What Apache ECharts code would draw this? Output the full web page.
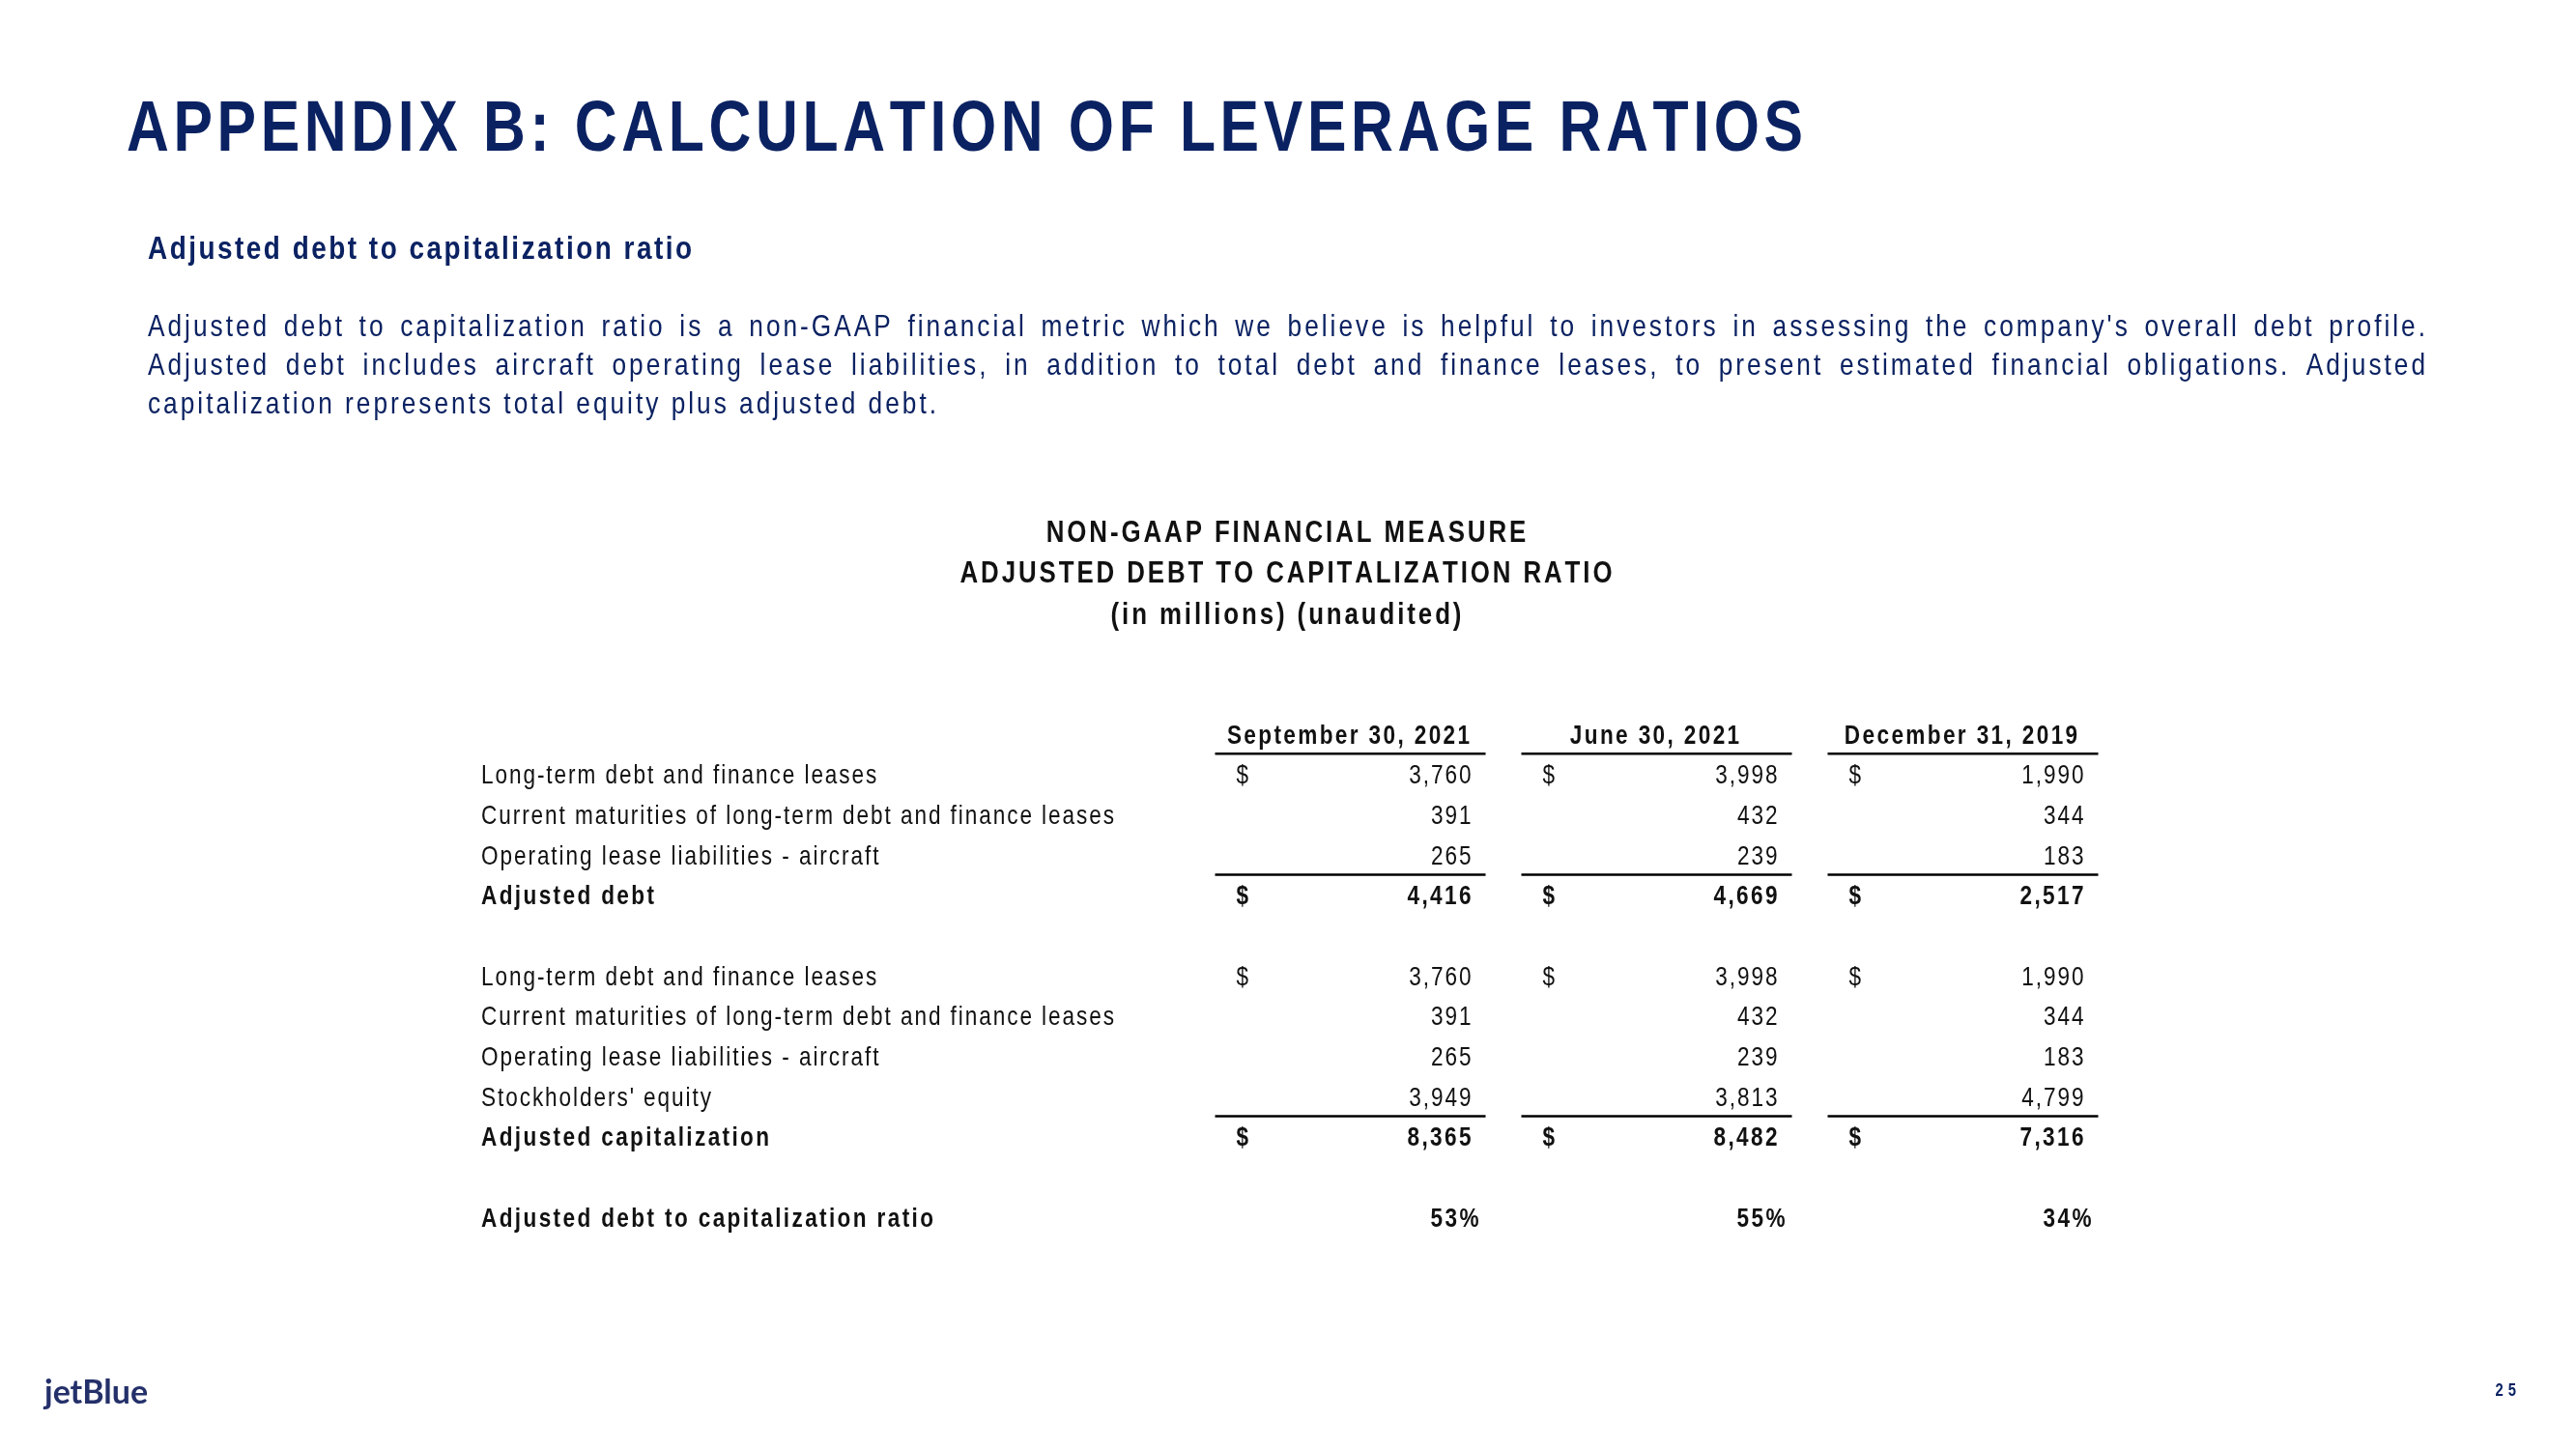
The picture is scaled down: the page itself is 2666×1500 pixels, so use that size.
<!DOCTYPE html>
<html><head><meta charset="utf-8">
<script src="https://cdn.jsdelivr.net/npm/echarts@6/dist/echarts.min.js"></script>
<style>html,body{margin:0;padding:0;background:#fff}#c{width:2666px;height:1500px}</style>
</head><body><div id="c"></div>
<script>
// ---------------- data ----------------
const periods = ['September 30, 2021', 'June 30, 2021', 'December 31, 2019'];
const longTermDebt = [3760, 3998, 1990];
const currentMaturities = [391, 432, 344];
const operatingLeaseAircraft = [265, 239, 183];
const adjustedDebt = [4416, 4669, 2517];
const stockholdersEquity = [3949, 3813, 4799];
const adjustedCapitalization = [8365, 8482, 7316];
const debtToCapRatio = [53, 55, 34];
const rowLabels = ['', 'Long-term debt and finance leases', 'Current maturities of long-term debt and finance leases',
  'Operating lease liabilities - aircraft', 'Adjusted debt', '', 'Long-term debt and finance leases',
  'Current maturities of long-term debt and finance leases', 'Operating lease liabilities - aircraft',
  "Stockholders' equity", 'Adjusted capitalization', '', 'Adjusted debt to capitalization ratio'];
const titleText = 'APPENDIX B: CALCULATION OF LEVERAGE RATIOS';
const subheadText = 'Adjusted debt to capitalization ratio';
const paragraphLines = [
  "Adjusted debt to capitalization ratio is a non-GAAP financial metric which we believe is helpful to investors in assessing the company's overall debt profile.",
  "Adjusted debt includes aircraft operating lease liabilities, in addition to total debt and finance leases, to present estimated financial obligations. Adjusted",
  "capitalization represents total equity plus adjusted debt."
];
const tableTitleLines = ['NON-GAAP FINANCIAL MEASURE', 'ADJUSTED DEBT TO CAPITALIZATION RATIO', '(in millions) (unaudited)'];
const logoText = 'jetBlue';
const pageNumber = '25';

// table structure (which array sits in which row)
const rows = [
  { header: true, underline: true },
  { values: longTermDebt, dollar: true },
  { values: currentMaturities },
  { values: operatingLeaseAircraft, underline: true },
  { values: adjustedDebt, dollar: true, bold: true },
  {},
  { values: longTermDebt, dollar: true },
  { values: currentMaturities },
  { values: operatingLeaseAircraft },
  { values: stockholdersEquity, underline: true },
  { values: adjustedCapitalization, dollar: true, bold: true },
  {},
  { values: debtToCapRatio, pct: true, bold: true }
];
const boldRows = [4, 10, 12];

// ---------------- text helpers ----------------
const NAVY = '#0b2262';
const INK = '#111111';
const ctx = document.createElement('canvas').getContext('2d');
function mw(font, s) { ctx.font = font; return ctx.measureText(s).width; }
const probe = 'Current maturities of long-term debt';
const hasNarrow = Math.abs(mw('40px "Liberation Sans Narrow", monospace', probe) - mw('40px monospace', probe)) > 1;
const FAM = hasNarrow ? '"Liberation Sans Narrow", "Liberation Sans", Arial, sans-serif' : '"Liberation Sans", Arial, sans-serif';
const SX = hasNarrow ? 1 : 0.82;

function charsWidth(t, font) { ctx.font = font; let s = 0; for (const ch of t) s += ctx.measureText(ch).width; return s; }
function makeStyle(size, weight, refText, refWidth, color) {
  const font = weight + ' ' + size + 'px ' + FAM;
  const nat = charsWidth(refText, font) * SX;
  const ls = (refWidth - nat) / (refText.length - 1);
  return { font, ls, sx: SX, color };
}
function layout(text, st) {
  ctx.font = st.font; let x = 0; const items = [];
  for (const ch of text) { const w = ctx.measureText(ch).width * st.sx; items.push({ ch, x }); x += w + st.ls; }
  return { items, width: text.length ? x - st.ls : 0 };
}
function textEls(text, st, x0, y, align) {
  const L = layout(text, st);
  const start = align === 'right' ? x0 - L.width : align === 'center' ? x0 - L.width / 2 : x0;
  return L.items.filter(i => i.ch !== ' ').map(i => ({
    type: 'text', x: start + i.x, y: y, scaleX: st.sx, silent: true,
    style: { text: i.ch, font: st.font, fill: st.color, align: 'left', verticalAlign: 'middle' }
  }));
}

// styles (reference widths measured from the slide)
const sTitle = makeStyle(74, 'bold', titleText, 1735, NAVY);
const sSub = makeStyle(34, 'bold', subheadText, 563, NAVY);
const sPara = makeStyle(32, 'normal', paragraphLines[2], 816, NAVY);
const sTT = makeStyle(31.5, 'bold', tableTitleLines[1], 675, INK);
const sReg = makeStyle(27.5, 'normal', rowLabels[2], 655, INK);
const sBold = makeStyle(27.5, 'bold', rowLabels[12], 468, INK);

// ---------------- static graphics ----------------
const g = [];
g.push(...textEls(titleText, sTitle, 131, 136, 'left'));
g.push(...textEls(subheadText, sSub, 153, 259, 'left'));
const PARA_L = 153, PARA_R = 2510, paraY = [339, 379, 419];
paragraphLines.forEach((line, li) => {
  const words = line.split(' ');
  const lays = words.map(w => layout(w, sPara));
  const sum = lays.reduce((a, b) => a + b.width, 0);
  const justify = li < paragraphLines.length - 1;
  const spaceW = mw(sPara.font, ' ') * sPara.sx + 2 * sPara.ls;
  const gap = justify ? (PARA_R - PARA_L - sum) / (words.length - 1) : spaceW;
  let x = PARA_L;
  words.forEach((w, wi) => { g.push(...textEls(w, sPara, x, paraY[li], 'left')); x += lays[wi].width + gap; });
});
const ttY = [552, 594, 637];
tableTitleLines.forEach((t, i) => g.push(...textEls(t, sTT, 1331, ttY[i], 'center')));
// logo + page number
const logoSize = 34 * 107 / mw('bold 34px Lato', logoText);
g.push({ type: 'text', x: 46, y: 1442, silent: true,
  style: { text: logoText, font: 'bold ' + logoSize.toFixed(1) + 'px Lato, sans-serif', fill: '#24306a', align: 'left', verticalAlign: 'middle' } });
const sPage = { font: 'bold 18px ' + FAM, ls: 5, sx: SX, color: NAVY };
g.push(...textEls(pageNumber, sPage, 2604, 1440, 'right'));

// ---------------- table cells (custom series on category axes) ----------------
const cells = [];
rows.forEach((r, ri) => {
  if (rowLabels[ri]) cells.push({ kind: 'label', col: 0, row: ri, text: rowLabels[ri], bold: boldRows.includes(ri) });
  if (r.header) periods.forEach((p, ci) => cells.push({ kind: 'header', col: ci, row: ri, text: p }));
  if (r.values) r.values.forEach((v, ci) => {
    if (r.dollar) cells.push({ kind: 'dollar', col: ci, row: ri, text: '$', bold: r.bold });
    if (r.pct) cells.push({ kind: 'pct', col: ci, row: ri, text: v + '%', bold: true });
    else cells.push({ kind: 'value', col: ci, row: ri, text: v.toLocaleString('en-US'), bold: r.bold });
  });
  if (r.underline) periods.forEach((p, ci) => cells.push({ kind: 'underline', col: ci, row: ri }));
});

const LABEL_X = 498;
function renderItem(params, api) {
  const c = cells[params.dataIndex];
  const p = api.coord([api.value(0), api.value(1)]);
  const sz = api.size([1, 1]);
  const cx = p[0], cy = p[1], rh = sz[1];
  const st = c.bold ? sBold : sReg;
  let children;
  switch (c.kind) {
    case 'label': children = textEls(c.text, st, LABEL_X, cy, 'left'); break;
    case 'header': children = textEls(c.text, sBold, cx - 2, cy, 'center'); break;
    case 'dollar': children = textEls(c.text, st, cx - 118, cy, 'left'); break;
    case 'value': children = textEls(c.text, st, cx + 125, cy, 'right'); break;
    case 'pct': children = textEls(c.text, st, cx + 133, cy, 'right'); break;
    case 'underline': {
      const y = cy + rh / 2 - 2.5;
      children = [{ type: 'line', silent: true, shape: { x1: cx - 140, y1: y, x2: cx + 140, y2: y },
        style: { stroke: '#000', lineWidth: 2.5 } }];
      break;
    }
  }
  return { type: 'group', children };
}

const chart = echarts.init(document.getElementById('c'), null, { renderer: 'canvas' });
chart.setOption({
  animation: false,
  backgroundColor: '#ffffff',
  grid: { left: 1239, top: 741.2, width: 951, height: 541.7 },
  xAxis: { type: 'category', data: periods, show: false },
  yAxis: { type: 'category', data: rowLabels.map((l, i) => 'row' + i), inverse: true, show: false },
  graphic: { elements: g },
  series: [{
    type: 'custom', renderItem, clip: false, silent: true,
    data: cells.map(c => [c.col, c.row])
  }]
});
</script></body></html>
